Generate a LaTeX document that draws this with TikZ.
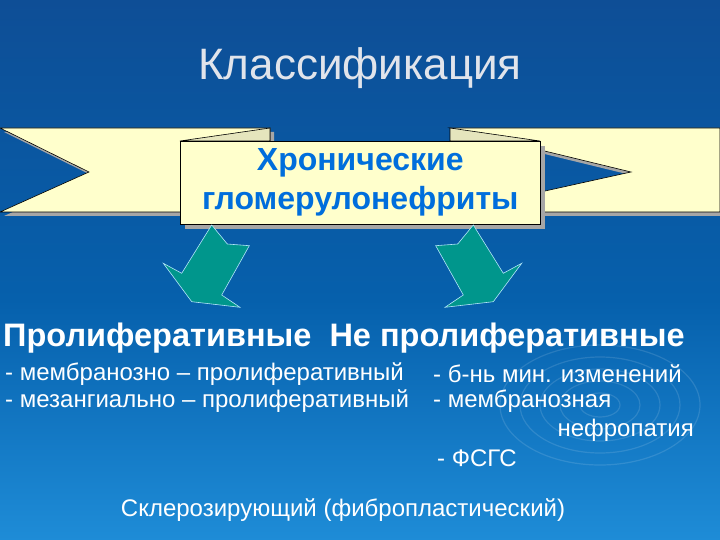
\documentclass[tikz,border=0pt]{standalone}
\usepackage{fontspec}
\setmainfont{Liberation Sans}
\definecolor{bgtop}{RGB}{14,78,150}
\definecolor{bgmid}{RGB}{6,96,172}
\definecolor{bgbot}{RGB}{30,140,215}
\definecolor{ribfill}{RGB}{255,255,204}
\definecolor{teal2}{RGB}{0,150,140}
\definecolor{bluetxt}{RGB}{0,110,220}
\definecolor{titlec}{RGB}{225,228,235}
\begin{document}
\begin{tikzpicture}[x=1pt,y=-1pt,
  ribbon/.style={fill=ribfill, draw=black, line width=0.6pt},
  shadow/.style={fill=gray!70},
  arr/.style={fill=teal2, draw=cyan!30!white, line width=0.6pt},
  body/.style={text=white, font=\fontsize{24}{28}\selectfont, anchor=west, inner sep=0pt},
  ]
\useasboundingbox (0,0) rectangle (720,540);
\shade[top color=bgtop, bottom color=bgmid] (0,0) rectangle (720,300.5);
\shade[top color=bgmid, bottom color=bgbot] (0,300) rectangle (720,540);
\foreach \r in {20,40,60,80,100} \draw[white, opacity=0.12, line width=1.2pt] (600,405) ellipse ({\r} and {\r*0.6});
\node[text=titlec, font=\fontsize{44}{48}\selectfont] (title) at (360,68) {Классификация};
% ribbons
\fill[shadow] (4,132) -- (274,132) -- (274,216) -- (4,216) -- (93,176) -- cycle;
\fill[shadow] (454,132) -- (724,132) -- (724,216) -- (454,216) -- (635,176) -- cycle;
\draw[ribbon] (0,128) -- (270,128) -- (270,212) -- (0,212) -- (89,172) -- cycle;
\draw[ribbon] (450,128) -- (720,128) -- (720,212) -- (450,212) -- (631,172) -- cycle;
\draw[ribbon, fill=ribfill!80!gray] (180,141) -- (270,128) -- (270,141) -- cycle;
\draw[ribbon, fill=ribfill!80!gray] (540,141) -- (450,128) -- (450,141) -- cycle;
\fill[shadow] (185,146) rectangle (545,229);
\node[ribbon, minimum width=360pt, minimum height=83pt, anchor=north west, inner sep=0pt, align=center,
  text=bluetxt, font=\bfseries\fontsize{32}{39}\selectfont] (box) at (180,141)
  {Хронические\\гломерулонефриты};
% arrows
\draw[arr] (211.7,225) -- (227.3,244) -- (249.3,245.7) -- (221.7,295) -- (240,307.3) -- (191.7,301.7) -- (163.3,263.3) -- (181.7,273.3) -- cycle;
\draw[arr] (473.3,225) -- (457.7,244) -- (435.7,245.7) -- (463.3,295) -- (445,307.3) -- (493.3,301.7) -- (521.7,263.3) -- (503.3,273.3) -- cycle;
\node[text=white, font=\bfseries\fontsize{32.5}{36}\selectfont, anchor=west, inner sep=0pt] (cat) at (3,338) {Пролиферативные\ \ Не пролиферативные};
\node[body] (l1) at (5,374) {- мембранозно – пролиферативный};
\node[body] (l2) at (5,401) {- мезангиально – пролиферативный};
\node[body] (r1) at (433,374) {- б-нь мин. изменений};
\node[body] (r2) at (433,401) {- мембранозная};
\node[body, anchor=east] (r3) at (694,430) {нефропатия};
\node[body] (r4) at (437,458) {- ФСГС};
\node[body, anchor=center] (bot) at (343,510) {Склерозирующий (фибропластический)};
\end{tikzpicture}
\end{document}
